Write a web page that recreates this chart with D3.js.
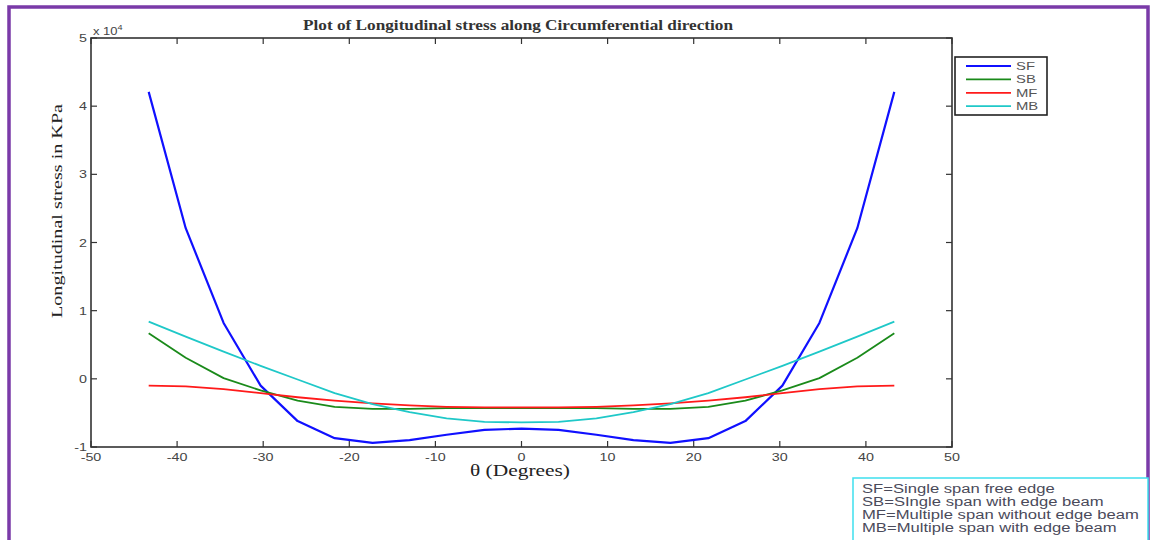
<!DOCTYPE html>
<html><head><meta charset="utf-8">
<script src="https://cdn.jsdelivr.net/npm/d3@7/dist/d3.min.js"></script>
<style>body{margin:0;background:#fff}</style>
</head><body><svg id="c" width="1156" height="540"></svg>
<script>
const theta = [-43.3,-39,-34.6,-30.3,-26,-21.7,-17.3,-13,-8.7,-4.3,0,4.3,8.7,13,17.3,21.7,26,30.3,34.6,39,43.3];
const SF = [4.21,2.21,0.82,-0.10,-0.62,-0.87,-0.94,-0.90,-0.82,-0.75,-0.73,-0.75,-0.82,-0.90,-0.94,-0.87,-0.62,-0.10,0.82,2.21,4.21];
const SB = [0.67,0.31,0.01,-0.17,-0.32,-0.41,-0.44,-0.44,-0.43,-0.43,-0.43,-0.43,-0.43,-0.44,-0.44,-0.41,-0.32,-0.17,0.01,0.31,0.67];
const MF = [-0.10,-0.11,-0.15,-0.21,-0.27,-0.32,-0.36,-0.39,-0.41,-0.42,-0.42,-0.42,-0.41,-0.39,-0.36,-0.32,-0.27,-0.21,-0.15,-0.11,-0.10];
const MB = [0.84,0.62,0.40,0.19,-0.01,-0.21,-0.37,-0.49,-0.58,-0.63,-0.64,-0.63,-0.58,-0.49,-0.37,-0.21,-0.01,0.19,0.40,0.62,0.84];
const seriesNames = ["SF","SB","MF","MB"];
const seriesColors = ["#1010ff","#1a8a1a","#ff1a1a","#1fc8c8"];
const xTicks = [-50,-40,-30,-20,-10,0,10,20,30,40,50];
const yTicks = [-1,0,1,2,3,4,5];
const notes = ["SF=Single span free edge","SB=SIngle span with edge beam","MF=Multiple span without edge beam","MB=Multiple span with edge beam"];

const svg = d3.select("#c");
const STRETCH = 1.3;
function stretch(sel, k){
  sel.each(function(){ const w=this.getComputedTextLength(); d3.select(this).attr("textLength",w*(k||STRETCH)).attr("lengthAdjust","spacingAndGlyphs"); });
  return sel;
}
// purple frame
svg.append("rect").attr("x",9).attr("y",7).attr("width",1139).attr("height",560)
  .attr("fill","none").attr("stroke","#7a3aa8").attr("stroke-width",3.5);

const L=91,R=952,T=38,B=447;
const x = d3.scaleLinear().domain([-50,50]).range([L,R]);
const y = d3.scaleLinear().domain([-1,5]).range([B,T]);
const axCol="#333", lblCol="#444";

const g = svg.append("g");
xTicks.forEach(v=>{
  g.append("line").attr("x1",x(v)).attr("x2",x(v)).attr("y1",B).attr("y2",B-6).attr("stroke",axCol).attr("stroke-width",1.2);
  g.append("line").attr("x1",x(v)).attr("x2",x(v)).attr("y1",T).attr("y2",T+6).attr("stroke",axCol).attr("stroke-width",1.2);
  stretch(g.append("text").attr("x",x(v)).attr("y",B+14).attr("text-anchor","middle")
   .attr("font-family","Liberation Sans, Arial").attr("font-size",11).attr("fill",lblCol).text(v));
});
yTicks.forEach(v=>{
  g.append("line").attr("x1",L).attr("x2",L+6).attr("y1",y(v)).attr("y2",y(v)).attr("stroke",axCol).attr("stroke-width",1.2);
  g.append("line").attr("x1",R).attr("x2",R-6).attr("y1",y(v)).attr("y2",y(v)).attr("stroke",axCol).attr("stroke-width",1.2);
  stretch(g.append("text").attr("x",L-4).attr("y",y(v)+4).attr("text-anchor","end")
   .attr("font-family","Liberation Sans, Arial").attr("font-size",11).attr("fill",lblCol).text(v));
});
g.append("rect").attr("x",L).attr("y",T).attr("width",R-L).attr("height",B-T)
  .attr("fill","none").attr("stroke",axCol).attr("stroke-width",1.6);

// exponent
const ex = g.append("text").attr("transform","translate(93,35) scale(1.3,1)").attr("font-family","Liberation Sans, Arial").attr("font-size",10).attr("fill",lblCol);
ex.append("tspan").text("x 10");
ex.append("tspan").attr("dy",-5).attr("font-size",7).text("4");

// lines
const data = [SF,SB,MF,MB];
const line = d3.line().x((d,i)=>x(theta[i])).y(d=>y(d));
data.forEach((s,k)=>{
  svg.append("path").datum(s).attr("d",line).attr("fill","none")
    .attr("stroke",seriesColors[k]).attr("stroke-width",k===0?2.2:1.8).attr("stroke-linejoin","round");
});

// title & labels
svg.append("text").attr("x",518).attr("y",30).attr("text-anchor","middle")
  .attr("font-family","Liberation Serif, Times New Roman").attr("font-weight","bold").attr("font-size",14)
  .attr("fill","#333").attr("textLength",430).attr("lengthAdjust","spacingAndGlyphs")
  .text("Plot of Longitudinal stress along Circumferential direction");
svg.append("text").attr("transform","translate(62,211) rotate(-90)").attr("text-anchor","middle")
  .attr("font-family","Liberation Serif, Times New Roman").attr("font-size",15).attr("fill","#222")
  .attr("textLength",214).attr("lengthAdjust","spacingAndGlyphs")
  .text("Longitudinal stress in KPa");
svg.append("text").attr("x",520).attr("y",476).attr("text-anchor","middle")
  .attr("font-family","Liberation Serif, Times New Roman").attr("font-size",16).attr("fill","#222")
  .attr("textLength",100).attr("lengthAdjust","spacingAndGlyphs")
  .text("θ (Degrees)");

// legend
const lg = svg.append("g");
lg.append("rect").attr("x",955).attr("y",57).attr("width",92).attr("height",58)
  .attr("fill","#fff").attr("stroke","#222").attr("stroke-width",1.6);
seriesNames.forEach((n,k)=>{
  const yy = 66 + k*13.4;
  lg.append("line").attr("x1",966).attr("x2",1011).attr("y1",yy).attr("y2",yy)
    .attr("stroke",seriesColors[k]).attr("stroke-width",1.8);
  stretch(lg.append("text").attr("x",1016).attr("y",yy+4).attr("font-family","Liberation Sans, Arial")
    .attr("font-size",11).attr("fill","#555").text(n), 1.35);
});

// note box
const nb = svg.append("g");
nb.append("rect").attr("x",853).attr("y",478).attr("width",295).attr("height",80)
  .attr("fill","#fff").attr("stroke","#3ee0ee").attr("stroke-width",1.5);
notes.forEach((t,k)=>{
  stretch(nb.append("text").attr("x",862).attr("y",493+k*12.9).attr("font-family","Liberation Sans, Arial")
    .attr("font-size",12.5).attr("fill","#4a4a5a").text(t), 1.33);
});
</script></body></html>
